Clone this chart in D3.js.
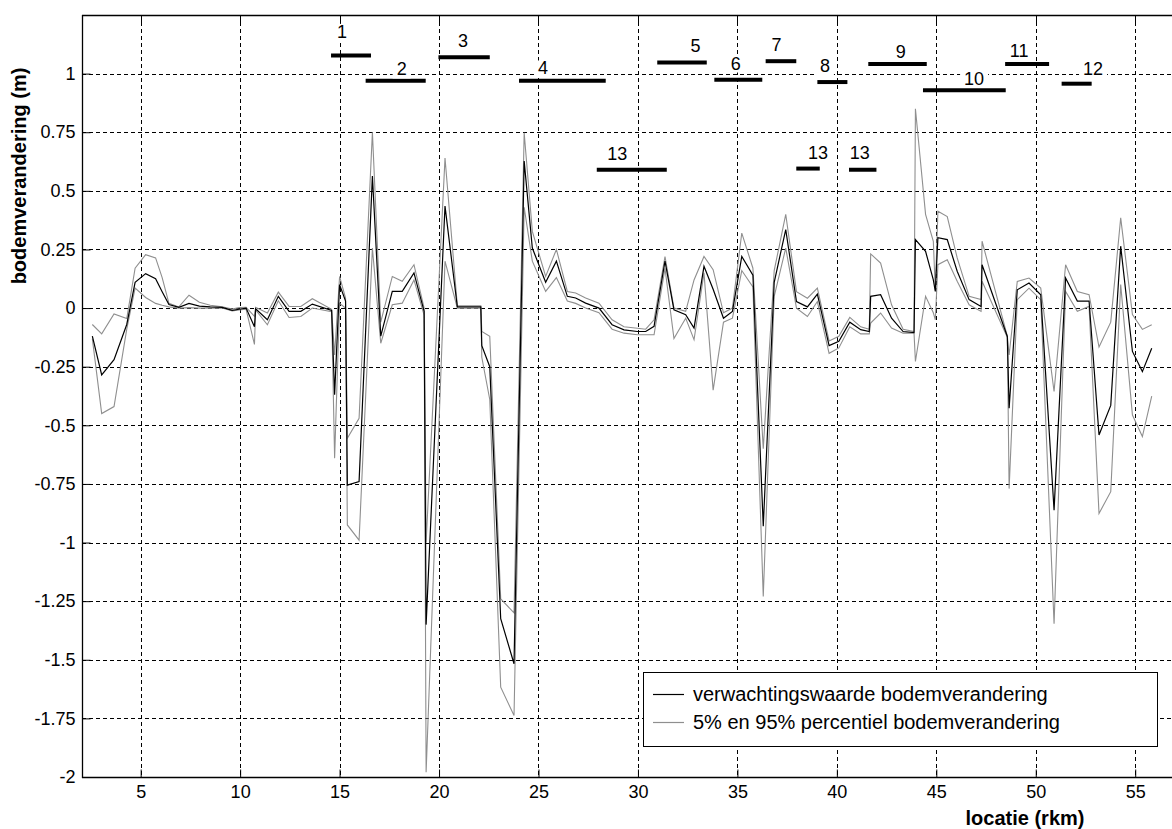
<!DOCTYPE html>
<html>
<head>
<meta charset="utf-8">
<script src="https://cdn.jsdelivr.net/npm/d3@7"></script>
<style>
  body { margin: 0; background: #fff; }
  svg { display: block; }
  text { font-family: Arial, "Liberation Sans", Helvetica, sans-serif; fill: #000; }
</style>
</head>
<body>
<svg id="chart" width="1172" height="829"></svg>
<script>
// Rivierkilometer of each computed section
const km = [2.57, 3.04, 3.66, 4.30, 4.72, 5.25, 5.75, 6.08, 6.42, 6.92, 7.43, 7.95, 8.5, 9.1, 9.6, 9.95, 10.3,
  10.72, 10.78, 11.37, 11.92, 12.46, 13.05, 13.63, 14.6, 14.75, 15.0, 15.3, 15.39, 15.98, 16.65, 17.07,
  17.65, 18.15, 18.74, 19.25, 19.35, 20.3, 20.92, 22.1, 22.15, 22.55, 23.1, 23.77, 24.28, 24.69, 25.36,
  25.9, 26.45, 26.87, 27.37, 28.04, 28.7, 29.3, 29.97, 30.39, 30.81, 31.36, 31.81, 32.4, 32.82, 33.32,
  33.78, 34.3, 34.75, 35.22, 35.78, 36.3, 36.85, 37.43, 37.97, 38.52, 39.02, 39.61, 40.1, 40.65, 41.2,
  41.63, 41.7, 42.2, 42.75, 43.33, 43.88, 43.95, 44.46, 44.85, 44.95, 45.08, 45.55, 46.05, 46.65, 47.25, 47.3,
  48.57, 48.66, 49.07, 49.66, 50.25, 50.92, 51.5, 52.09, 52.68, 53.18, 53.77, 54.27, 54.86, 55.36, 55.83];

// 95% percentiel bodemverandering (m)
const p95 = [-0.07, -0.11, -0.025, -0.045, 0.17, 0.228, 0.214, 0.13, 0.02, 0.005, 0.055, 0.025, 0.012, 0.006, -0.004, 0.002, 0.003,
  -0.035, 0.003, -0.021, 0.068, 0.007, 0.007, 0.04, -0.005, -0.2, 0.135, 0.043, -0.555, -0.47, 0.75, -0.06,
  0.135, 0.114, 0.185, 0.0, -1.0, 0.64, 0.01, 0.01, -0.1, -0.12, -1.24, -1.3, 0.748, 0.327, 0.135,
  0.25, 0.071, 0.064, 0.043, 0.021, -0.05, -0.08, -0.086, -0.09, -0.05, 0.22, 0.0, -0.014, 0.12, 0.22,
  0.164, -0.02, 0.0, 0.32, 0.17, -0.6, 0.16, 0.4, 0.07, 0.042, 0.085, -0.14, -0.12, -0.04, -0.08,
  -0.09, 0.231, 0.192, 0.014, -0.09, -0.1, 0.85, 0.4, 0.285, 0.075, 0.413, 0.39, 0.214, 0.05, 0.036, 0.285,
  -0.12, -0.2, 0.114, 0.128, 0.085, -0.356, 0.185, 0.071, 0.057, -0.166, -0.06, 0.385, -0.028, -0.091, -0.071];

// verwachtingswaarde bodemverandering (m)
const verwachting = [-0.12, -0.285, -0.22, -0.07, 0.11, 0.147, 0.125, 0.07, 0.015, 0.003, 0.02, 0.008, 0.005, 0.003, -0.01, -0.005, 0.0,
  -0.08, -0.003, -0.05, 0.05, -0.014, -0.014, 0.017, -0.01, -0.37, 0.1, 0.03, -0.755, -0.74, 0.563, -0.12,
  0.071, 0.071, 0.15, -0.014, -1.35, 0.435, 0.005, 0.005, -0.16, -0.25, -1.325, -1.517, 0.627, 0.256, 0.11,
  0.2, 0.05, 0.043, 0.021, 0.0, -0.071, -0.093, -0.1, -0.1, -0.078, 0.2, -0.007, -0.028, -0.085, 0.178,
  0.08, -0.043, -0.014, 0.22, 0.14, -0.93, 0.11, 0.335, 0.028, 0.005, 0.06, -0.16, -0.142, -0.06, -0.092,
  -0.1, 0.05, 0.057, -0.043, -0.1, -0.105, 0.292, 0.242, 0.12, 0.071, 0.3, 0.292, 0.157, 0.036, 0.007, 0.185,
  -0.121, -0.427, 0.078, 0.107, 0.057, -0.862, 0.128, 0.03, 0.03, -0.541, -0.415, 0.264, -0.185, -0.271, -0.171];

// 5% percentiel bodemverandering (m)
const p5 = [-0.13, -0.45, -0.42, -0.09, 0.085, 0.045, 0.02, 0.012, 0.005, 0.0, 0.002, 0.0, 0.0, 0.0, -0.012, -0.008, -0.005,
  -0.155, -0.008, -0.071, 0.031, -0.04, -0.036, 0.0, -0.015, -0.64, 0.02, 0.0, -0.925, -0.99, 0.256, -0.15,
  0.014, 0.021, 0.12, -0.03, -1.98, 0.2, 0.0, 0.0, -0.21, -0.39, -1.617, -1.738, 0.43, 0.2, 0.071,
  0.13, 0.03, 0.02, 0.0, -0.02, -0.09, -0.107, -0.114, -0.114, -0.114, 0.17, -0.13, -0.043, -0.135, 0.15,
  -0.35, -0.06, -0.043, 0.16, 0.09, -1.23, 0.05, 0.256, 0.0, -0.036, 0.028, -0.193, -0.17, -0.08, -0.11,
  -0.11, -0.064, -0.021, -0.085, -0.107, -0.107, -0.228, 0.05, -0.02, -0.05, 0.185, 0.206, 0.114, 0.014, -0.014, 0.114,
  -0.125, -0.77, 0.036, 0.085, 0.036, -1.346, 0.071, -0.014, 0.007, -0.876, -0.783, 0.1, -0.456, -0.548, -0.376];

// Axis ticks
const xTicks = [5, 10, 15, 20, 25, 30, 35, 40, 45, 50, 55];
const yTicks = [-2, -1.75, -1.5, -1.25, -1, -0.75, -0.5, -0.25, 0, 0.25, 0.5, 0.75, 1];

// Numbered river stretches (horizontal bars with their numbers)
const stretchNames = ['1', '2', '3', '4', '5', '6', '7', '8', '9', '10', '11', '12', '13', '13', '13'];
const stretchFrom  = [14.57, 16.31, 19.97, 24.02, 30.97, 33.84, 36.42, 39.02, 41.58, 44.33, 48.46, 51.3, 27.93, 37.96, 40.61];
const stretchTo    = [16.58, 19.33, 22.55, 28.38, 33.46, 36.25, 37.96, 40.53, 44.52, 48.49, 50.67, 52.81, 31.45, 39.14, 41.99];
const stretchLevel = [1.077, 0.97, 1.07, 0.97, 1.047, 0.974, 1.053, 0.964, 1.041, 0.929, 1.041, 0.957, 0.59, 0.595, 0.59];
const nameKm       = [15.12, 18.12, 21.2, 25.23, 32.9, 34.92, 36.96, 39.4, 43.21, 46.9, 49.16, 52.88, 28.96, 39.05, 41.15];
const nameLevel    = [1.18, 1.02, 1.14, 1.024, 1.12, 1.045, 1.125, 1.033, 1.094, 0.98, 1.097, 1.023, 0.658, 0.662, 0.662];

const legendLabels = ['verwachtingswaarde bodemverandering', '5% en 95% percentiel bodemverandering'];

(function draw() {
  const svg = d3.select('#chart');
  svg.append('rect').attr('width', 1172).attr('height', 829).attr('fill', '#fff');

  const L = 82, T = 15, B = 777, R = 1175;
  const x = d3.scaleLinear().domain([2.05, 57]).range([L, R]);
  const y = d3.scaleLinear().domain([-2, 1.25]).range([B, T]);
  const px = v => Math.round(v) + 0.5;

  const plot = svg.append('g');

  // dotted grid
  const grid = plot.append('g').attr('stroke', '#000').attr('stroke-width', 1)
    .attr('stroke-dasharray', '4,3').attr('shape-rendering', 'crispEdges');
  grid.selectAll('line.gx').data(xTicks).join('line').attr('class', 'gx')
    .attr('x1', d => px(x(d))).attr('x2', d => px(x(d))).attr('y1', T).attr('y2', B);
  grid.selectAll('line.gy').data(yTicks.filter(d => d > -2)).join('line').attr('class', 'gy')
    .attr('x1', L).attr('x2', 1172).attr('y1', d => px(y(d))).attr('y2', d => px(y(d)));

  // series
  const rows = km.map((k, i) => ({ k, hi: p95[i], m: verwachting[i], lo: p5[i] }));
  const lineFor = key => d3.line().defined(d => d[key] != null).x(d => x(d.k)).y(d => y(d[key]));
  svg.append('clipPath').attr('id', 'plotclip').append('rect')
    .attr('x', L).attr('y', T).attr('width', R - L).attr('height', B - T);
  const series = plot.append('g').attr('clip-path', 'url(#plotclip)').attr('fill', 'none');
  series.append('path').datum(rows).attr('d', lineFor('hi')).attr('stroke', '#8f8f8f').attr('stroke-width', 1.1);
  series.append('path').datum(rows).attr('d', lineFor('lo')).attr('stroke', '#8f8f8f').attr('stroke-width', 1.1);
  series.append('path').datum(rows).attr('d', lineFor('m')).attr('stroke', '#000').attr('stroke-width', 1.2);

  // numbered stretches
  const stretches = stretchNames.map((n, i) => ({ n, a: stretchFrom[i], b: stretchTo[i], v: stretchLevel[i], lk: nameKm[i], lv: nameLevel[i] }));
  const sg = plot.append('g');
  sg.selectAll('line').data(stretches).join('line')
    .attr('x1', d => x(d.a)).attr('x2', d => x(d.b))
    .attr('y1', d => y(d.v)).attr('y2', d => y(d.v))
    .attr('stroke', '#000').attr('stroke-width', 4);
  const names = sg.selectAll('g.name').data(stretches).join('g').attr('class', 'name');
  const nameBoxes = names.append('rect').attr('fill', '#fff');
  const nameTexts = names.append('text')
    .attr('x', d => x(d.lk)).attr('y', d => y(d.lv)).attr('dy', '0.36em')
    .attr('text-anchor', 'middle').attr('font-size', 18).text(d => d.n);
  // white backing behind each number, as the text boxes interrupt the grid
  nameTexts.each(function () {
    const bb = this.getBBox();
    d3.select(this.parentNode).select('rect')
      .attr('x', bb.x - 4).attr('y', bb.y + 2).attr('width', bb.width + 8).attr('height', bb.height - 3);
  });

  // axes
  const axes = svg.append('g');
  const yAxis = d3.axisLeft(y).tickValues(yTicks).tickSizeInner(-8).tickSizeOuter(0).tickPadding(7).tickFormat(d => String(d));
  const xAxis = d3.axisBottom(x).tickValues(xTicks).tickSizeInner(-8).tickSizeOuter(0).tickPadding(8).tickFormat(d => String(d));
  const ya = axes.append('g').attr('transform', `translate(${L + 0.5},0)`).call(yAxis);
  const xa = axes.append('g').attr('transform', `translate(0,${B + 0.5})`).call(xAxis);
  [ya, xa].forEach(a => {
    a.select('.domain').remove();
    a.attr('font-family', null).attr('font-size', null);
    a.selectAll('text').attr('font-size', 18).attr('fill', '#000');
    a.selectAll('line').attr('stroke', '#000');
  });
  // top ticks
  axes.append('g').selectAll('line').data(xTicks).join('line')
    .attr('x1', d => px(x(d))).attr('x2', d => px(x(d))).attr('y1', T).attr('y2', T + 8)
    .attr('stroke', '#000');

  // frame
  const frame = svg.append('g').attr('stroke', '#000').attr('stroke-width', 1.3).attr('fill', 'none');
  frame.append('line').attr('x1', L + 0.5).attr('x2', L + 0.5).attr('y1', T).attr('y2', B + 1);
  frame.append('line').attr('x1', L).attr('x2', 1172).attr('y1', T + 0.5).attr('y2', T + 0.5);
  frame.append('line').attr('x1', L).attr('x2', 1172).attr('y1', B + 0.5).attr('y2', B + 0.5);

  // axis titles
  svg.append('text').attr('transform', 'translate(26,176) rotate(-90)')
    .attr('text-anchor', 'middle').attr('font-weight', 'bold').attr('font-size', 20)
    .text('bodemverandering (m)');
  svg.append('text').attr('x', 1025).attr('y', 825)
    .attr('text-anchor', 'middle').attr('font-weight', 'bold').attr('font-size', 20)
    .text('locatie (rkm)');

  // legend
  const lg = svg.append('g');
  lg.append('rect').attr('x', 643.5).attr('y', 672.5).attr('width', 514).attr('height', 74)
    .attr('fill', '#fff').attr('stroke', '#000').attr('stroke-width', 1);
  const legendColors = ['#000', '#8f8f8f'];
  legendLabels.forEach((t, i) => {
    const cy = 694 + i * 28;
    lg.append('line').attr('x1', 653).attr('x2', 684).attr('y1', cy + 0.5).attr('y2', cy + 0.5)
      .attr('stroke', legendColors[i]).attr('stroke-width', 1.2);
    lg.append('text').attr('x', 693).attr('y', cy + 6.5).attr('font-size', 20).text(t);
  });
})();
</script>
</body>
</html>
